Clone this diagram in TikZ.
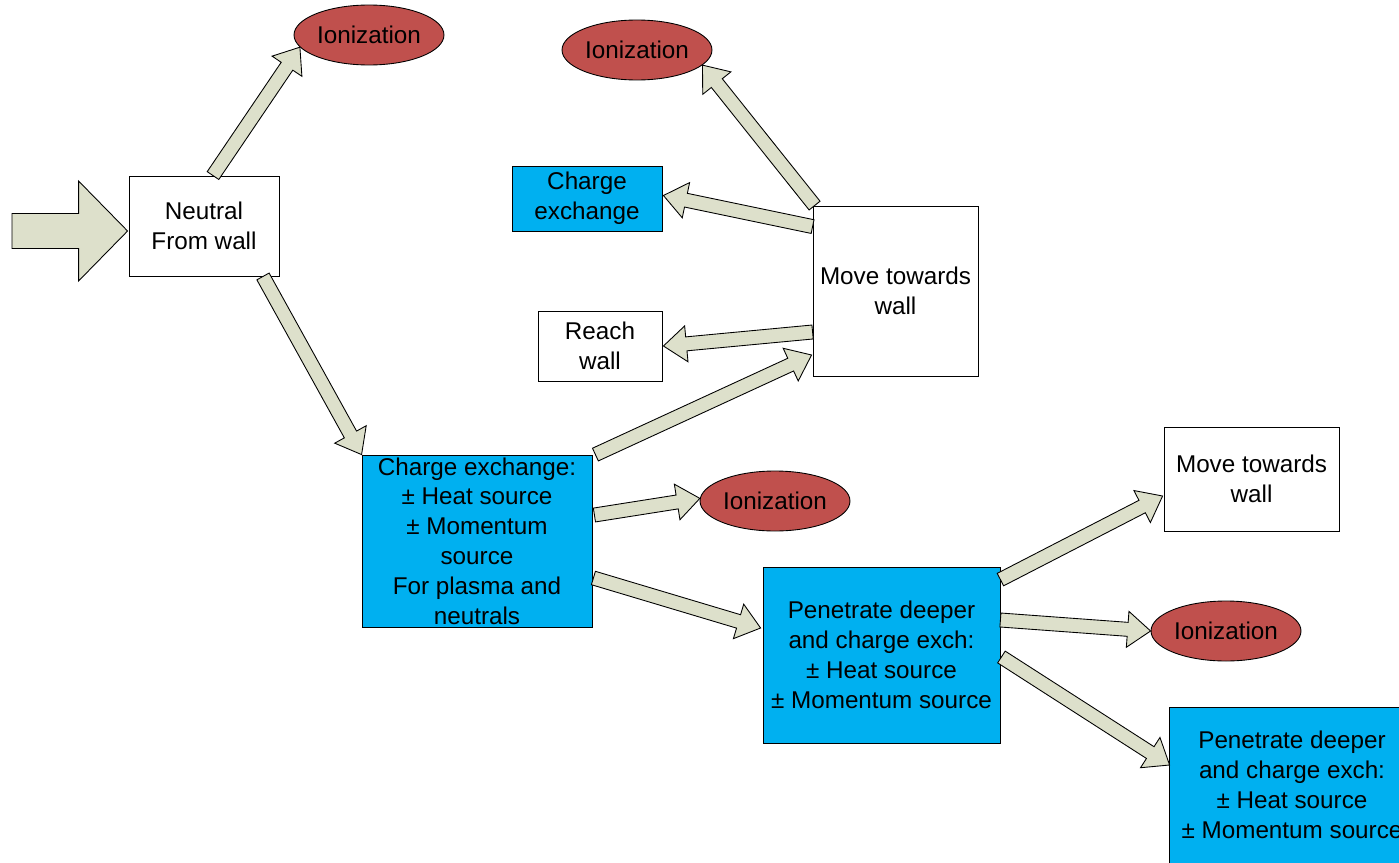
\documentclass[tikz,border=0pt]{standalone}
\usepackage{fontspec}
\setmainfont{Liberation Sans}
\usetikzlibrary{calc,shapes.geometric}

\definecolor{arrowfill}{RGB}{221,224,203}
\definecolor{ionred}{RGB}{192,80,77}
\definecolor{cxblue}{RGB}{0,176,240}

\tikzset{
  box/.style={draw=black, line width=0.5pt, fill=white, align=center, inner sep=0pt,
    font=\fontsize{13.8}{17}\selectfont},
  cxbox/.style={box, fill=cxblue},
  ion/.style={ellipse, draw=black, line width=0.5pt, fill=ionred, inner sep=0pt,
    minimum width=3cm, minimum height=1.2cm, font=\fontsize{13.8}{17}\selectfont},
  fatarrow/.style={draw=black, line width=0.5pt, fill=arrowfill, line join=miter},
}

% block arrow: shaft half width, head half width, head length, from, to
\newcommand{\blockarrow}[5]{%
  \coordinate (ba-a) at #4;
  \coordinate (ba-b) at #5;
  \coordinate (ba-h) at ($(ba-b)!#3!(ba-a)$);
  \draw[fatarrow] ($(ba-a)!#1!90:(ba-b)$) -- ($(ba-h)!#1!90:(ba-b)$)
    -- ($(ba-h)!#2!90:(ba-b)$) -- (ba-b) -- ($(ba-h)!#2!-90:(ba-b)$)
    -- ($(ba-h)!#1!-90:(ba-b)$) -- ($(ba-a)!#1!-90:(ba-b)$) -- cycle;
}
\newcommand{\flowarrow}[2]{\blockarrow{0.14cm}{0.36cm}{0.46cm}{#1}{#2}}

\begin{document}
\begin{tikzpicture}[x=0.02cm, y=-0.02cm]
  \useasboundingbox (0,0) rectangle (1399,862);
  \clip (0,0) rectangle (1399,862);

  % boxes
  \node[box, minimum width=3cm, minimum height=2cm] (neutral) at (204,226) {Neutral\\From wall};
  \node[ion] (ion1) at (369,35) {Ionization};
  \node[cxbox, minimum width=4.6cm, minimum height=3.44cm] (cx) at (477,541)
    {Charge exchange:\\± Heat source\\± Momentum\\source\\For plasma and\\neutrals};
  \node[ion] (ion2) at (637,50) {Ionization};
  \node[cxbox, minimum width=3cm, minimum height=1.3cm] (cxsmall) at (587,198.5) {Charge\\exchange};
  \node[box, minimum width=3.3cm, minimum height=3.4cm] (move1) at (895.5,291) {Move towards\\wall};
  \node[box, minimum width=2.48cm, minimum height=1.4cm] (reach) at (600,346) {Reach\\wall};
  \node[ion] (ion3) at (775,501) {Ionization};
  \node[cxbox, minimum width=4.74cm, minimum height=3.52cm] (pen1) at (881.5,655)
    {Penetrate deeper\\and charge exch:\\± Heat source\\± Momentum source};
  \node[box, minimum width=3.5cm, minimum height=2.08cm] (move2) at (1251.5,479) {Move towards\\wall};
  \node[ion] (ion4) at (1226,631) {Ionization};
  \node[cxbox, minimum width=4.92cm, minimum height=3.12cm] (pen2) at (1292,785)
    {Penetrate deeper\\and charge exch:\\± Heat source\\± Momentum source};

  % incoming neutrals
  \coordinate (feed) at (12,231);
  \blockarrow{0.35cm}{1cm}{0.98cm}{(feed)}{($(neutral.west)+(-1,5)$)}

  % arrows
  \flowarrow{($(neutral.north)+(9,0)$)}{(ion1.190)}
  \flowarrow{($(neutral.south)+(59,0)$)}{(cx.north west)}
  \flowarrow{($(move1.north west)+(2,0)$)}{(ion2.-13)}
  \flowarrow{($(move1.north west)+(0,21)$)}{($(cxsmall.east)+(1,-3)$)}
  \flowarrow{($(move1.west)+(0,41)$)}{($(reach.east)+(1,0)$)}
  \flowarrow{($(cx.north east)+(3,0)$)}{($(move1.west)+(-1,64)$)}
  \flowarrow{($(cx.east)+(2,-26)$)}{(ion3.178)}
  \flowarrow{($(cx.east)+(1,37)$)}{($(pen1.west)+(-2,-27)$)}
  \flowarrow{($(pen1.north east)+(0,13)$)}{($(move2.west)+(-1,17)$)}
  \flowarrow{($(pen1.east)+(0,-35)$)}{(ion4.west)}
  \flowarrow{($(pen1.east)+(1,2)$)}{($(pen2.west)+(1,-20)$)}
\end{tikzpicture}
\end{document}
